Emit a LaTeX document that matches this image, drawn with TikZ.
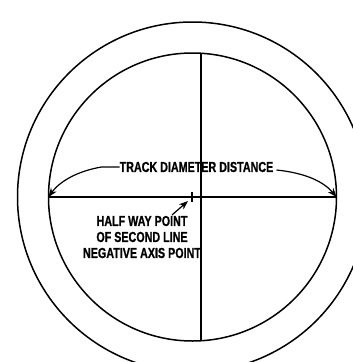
\documentclass[tikz,border=0pt]{standalone}
\usepackage{fontspec}
\setmainfont{Liberation Sans}[FakeStretch=0.74, BoldFeatures={FakeBold=0.8}]
\usetikzlibrary{arrows.meta,calc}

\begin{document}
\begin{tikzpicture}[
  x=1pt, y=-1pt,
  font=\fontsize{14.5}{16}\selectfont\bfseries,
  ring/.style={line width=1.5pt},
  axis/.style={line width=1.4pt},
  lbl/.style={align=center, inner sep=0pt},
  dim/.style={-{Stealth[length=3.2mm, width=2.4mm]}, line width=1.2pt},
  ]
  \useasboundingbox (0,0) rectangle (353,362);
  \clip (0,0) rectangle (353,362);
  % track circles
  \coordinate (c) at (192.5,197);
  \draw[ring] (c) circle[radius=175];
  \draw[ring] (c) circle[radius=144];
  % diameters
  \coordinate (west) at ($(c)+(-144,0)$);
  \coordinate (east) at ($(c)+(144,0)$);
  \coordinate (top) at ($(c)+(8.5,-143.7)$);
  \coordinate (bot) at ($(c)+(8.5,143.7)$);
  \draw[axis] (west) -- (east);
  \draw[axis] (top) -- (bot);
  \coordinate (mid) at (192,197);
  \draw[axis] ($(mid)+(0,-5)$) -- ($(mid)+(0,5)$);
  % labels
  \node[lbl] (track) at (196.5,167) {TRACK DIAMETER DISTANCE};
  \node[lbl] (half) at (142,237) {HALF WAY POINT\\ OF SECOND LINE\\ NEGATIVE AXIS POINT};
  \draw[dim] (track.west) -- ++(-18,0) .. controls (78,171) and (60,181) .. (west);
  \draw[dim] ($(track.east)+(3,3)$) .. controls (306,173) and (324,182) .. (east);
  \draw[dim] (172,215) -- ($(mid)+(-4,4)$);
\end{tikzpicture}
\end{document}
